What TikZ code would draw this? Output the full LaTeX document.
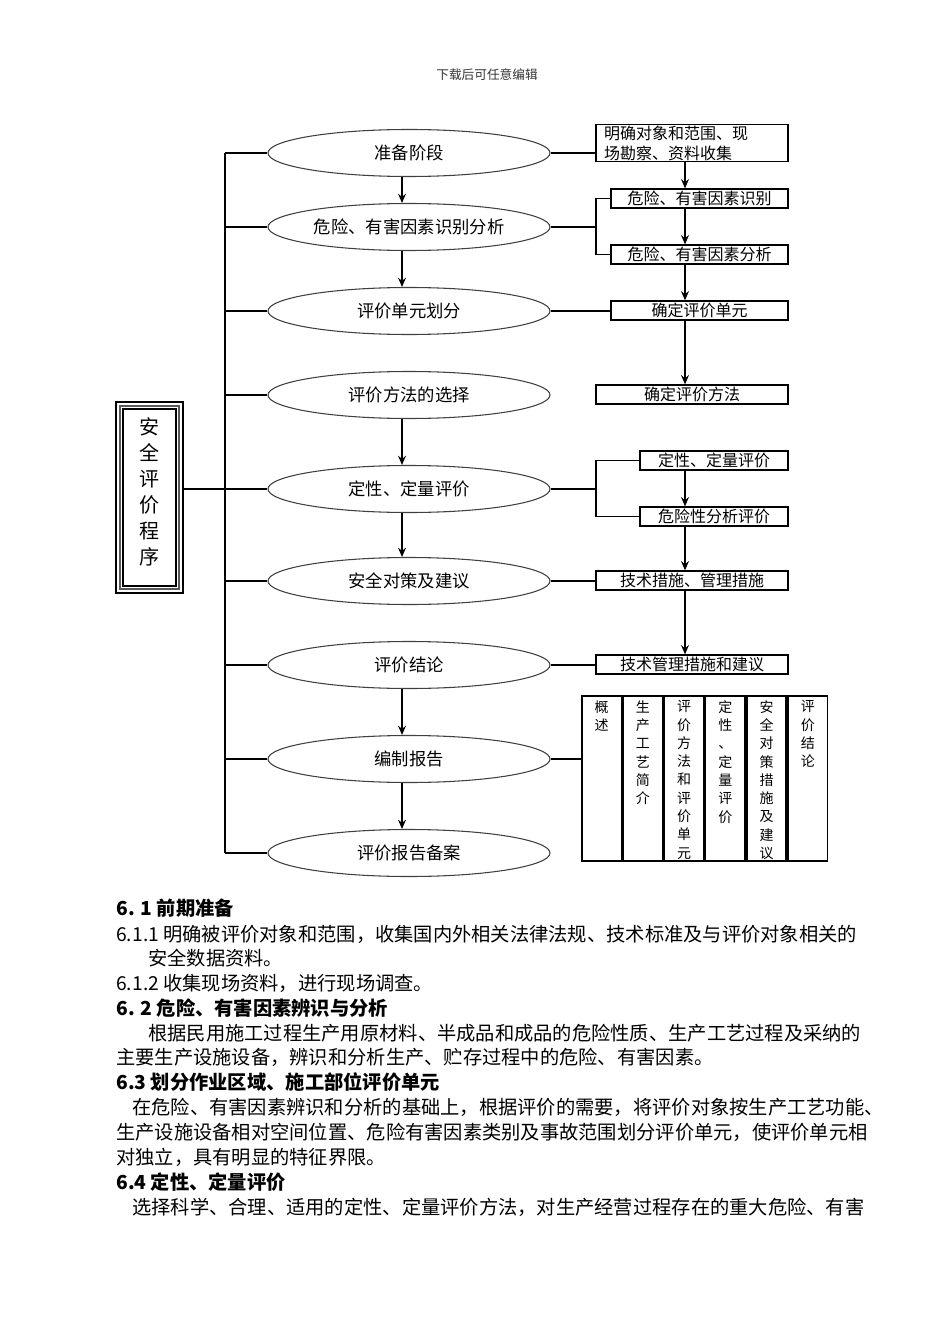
\documentclass[tikz,border=0pt]{standalone}
\usepackage{fontspec}
\setmainfont{Noto Sans CJK SC}
\usetikzlibrary{arrows.meta,positioning,shapes.geometric}

\begin{document}
\begin{tikzpicture}[
  x=0.75pt,
  y=-0.75pt,
  stage/.style={ellipse, draw=black!75, line width=0.8pt, minimum width=211.5pt, minimum height=35.25pt, inner sep=0pt, font=\fontsize{13}{15}\selectfont},
  task/.style={rectangle, draw, line width=1pt, minimum height=14.25pt, inner sep=1pt, font=\fontsize{12}{15}\selectfont},
  col/.style={rectangle, draw, line width=1.3pt, minimum width=29.625pt, minimum height=123.75pt, inner sep=0pt, anchor=north west},
  coltext/.style={anchor=north, align=center, inner sep=0pt, font=\fontsize{10.5}{13.7}\selectfont},
  link/.style={line width=0.8pt},
  flow/.style={link, -{Stealth[length=7pt,width=6pt,inset=2.5pt]}},
  para/.style={anchor=west, inner sep=0pt, font=\fontsize{14.45}{18}\selectfont},
  head/.style={para, font=\fontsize{14.45}{18}\selectfont\bfseries},
]
\useasboundingbox (0,0) rectangle (950,1344);

% Page header
\node[font=\fontsize{9.5}{11}\selectfont, text=black!80] (hdr) at (487,75) {下载后可任意编辑};

% Stages (centre column)
\node[stage] (e1) at (409,153) {准备阶段};
\node[stage] (e2) at (409,227) {危险、有害因素识别分析};
\node[stage] (e3) at (409,311) {评价单元划分};
\node[stage] (e4) at (409,395) {评价方法的选择};
\node[stage] (e5) at (409,489) {定性、定量评价};
\node[stage] (e6) at (409,581) {安全对策及建议};
\node[stage] (e7) at (409,665) {评价结论};
\node[stage] (e8) at (409,759) {编制报告};
\node[stage] (e9) at (409,853) {评价报告备案};

% Tasks (right column)
\node[task, minimum width=144pt, minimum height=27pt, text width=132pt, align=left] (r1) at (692,143) {明确对象和范围、现\\场勘察、资料收集};
\node[task, minimum width=132.75pt] (r2) at (699.5,198.5) {危险、有害因素识别};
\node[task, minimum width=132.75pt] (r3) at (699.5,254.5) {危险、有害因素分析};
\node[task, minimum width=132.75pt] (r4) at (699.5,310.5) {确定评价单元};
\node[task, minimum width=144pt] (r5) at (692,394.5) {确定评价方法};
\node[task, minimum width=111pt] (r6) at (714,460.5) {定性、定量评价};
\node[task, minimum width=111pt] (r7) at (714,516.5) {危险性分析评价};
\node[task, minimum width=144pt] (r8) at (692,580.5) {技术措施、管理措施};
\node[task, minimum width=144pt] (r9) at (692,664.5) {技术管理措施和建议};

% Report contents table
\node[col] (c1) at (581,695) {};
\node[col, right=0pt of c1] (c2) {};
\node[col, right=0pt of c2] (c3) {};
\node[col, right=0pt of c3] (c4) {};
\node[col, right=0pt of c4] (c5) {};
\node[col, right=0pt of c5] (c6) {};
\node[coltext] (t1) at ([yshift=-4pt]c1.north) {概\\述};
\node[coltext] (t2) at ([yshift=-4pt]c2.north) {生\\产\\工\\艺\\简\\介};
\node[coltext] (t3) at ([yshift=-4pt]c3.north) {评\\价\\方\\法\\和\\评\\价\\单\\元};
\node[coltext] (t4) at ([yshift=-4pt]c4.north) {定\\性\\、\\定\\量\\评\\价};
\node[coltext] (t5) at ([yshift=-4pt]c5.north) {安\\全\\对\\策\\措\\施\\及\\建\\议};
\node[coltext] (t6) at ([yshift=-4pt]c6.north) {评\\价\\结\\论};

% Title box (left)
\node[draw, line width=0.8pt, minimum width=50.25pt, minimum height=143.25pt, inner sep=0pt] (prog) at (149.5,497.5) {};
\node[draw=black!65, line width=2pt, minimum width=44.25pt, minimum height=137.25pt, inner sep=0pt] (progmid) at (prog) {};
\node[draw, line width=0.8pt, minimum width=39.75pt, minimum height=132.75pt, inner sep=0pt] (progin) at (prog) {};
\node[align=center, inner sep=0pt, font=\fontsize{15}{19.5}\selectfont] (progtxt) at (149.5,492) {安\\全\\评\\价\\程\\序};

% Spine and branches
\coordinate (spine) at (225,0);
\coordinate (mid) at (402,0);
\coordinate (side) at (685,0);
\coordinate (brk) at (596,0);
\draw[link] (e1 -| spine) -- (e9 -| spine);
\foreach \i in {1,...,9}
  \draw[link] (e\i -| spine) -- (e\i.west);
\draw[link] (prog.east |- e5) -- (e5 -| spine);

% Arrows between stages
\foreach \a/\b in {e1/e2,e2/e3,e4/e5,e5/e6,e7/e8,e8/e9}
  \draw[flow] (\a.south -| mid) -- (\b.north -| mid);

% Arrows between tasks
\foreach \a/\b in {r1/r2,r2/r3,r3/r4,r4/r5,r6/r7,r7/r8,r8/r9}
  \draw[flow] (\a.south -| side) -- (\b.north -| side);

% Stage to task links
\draw[link] (e1.east) -- (e1.east -| r1.west);
\draw[link] (e3.east) -- (e3.east -| r4.west);
\draw[link] (e6.east) -- (e6.east -| r8.west);
\draw[link] (e7.east) -- (e7.east -| r9.west);
\draw[link] (e8.east) -- (e8.east -| c1.west);
\draw[link] (e2.east) -- (e2.east -| brk);
\draw[link] (r2.west) -- (r2.west -| brk) -- (r3.west -| brk) -- (r3.west);
\draw[link] (e5.east) -- (e5.east -| brk);
\draw[link] (r6.west) -- (r6.west -| brk) -- (r7.west -| brk) -- (r7.west);

% Body text
\node[head] (p1) at (116,908) {6. 1 前期准备};
\node[para] (p2) at (116,934) {6.1.1 明确被评价对象和范围，收集国内外相关法律法规、技术标准及与评价对象相关的};
\node[para] (p3) at (148,958) {安全数据资料。};
\node[para] (p4) at (116,983) {6.1.2 收集现场资料，进行现场调查。};
\node[head] (p5) at (116,1008) {6. 2 危险、有害因素辨识与分析};
\node[para] (p6) at (148,1033) {根据民用施工过程生产用原材料、半成品和成品的危险性质、生产工艺过程及采纳的};
\node[para] (p7) at (116,1057) {主要生产设施设备，辨识和分析生产、贮存过程中的危险、有害因素。};
\node[head] (p8) at (116,1082) {6.3 划分作业区域、施工部位评价单元};
\node[para] (p9) at (132,1107) {在危险、有害因素辨识和分析的基础上，根据评价的需要，将评价对象按生产工艺功能、};
\node[para] (p10) at (116,1132) {生产设施设备相对空间位置、危险有害因素类别及事故范围划分评价单元，使评价单元相};
\node[para] (p11) at (116,1157) {对独立，具有明显的特征界限。};
\node[head] (p12) at (116,1182) {6.4 定性、定量评价};
\node[para] (p13) at (132,1207) {选择科学、合理、适用的定性、定量评价方法，对生产经营过程存在的重大危险、有害};

\end{tikzpicture}
\end{document}
